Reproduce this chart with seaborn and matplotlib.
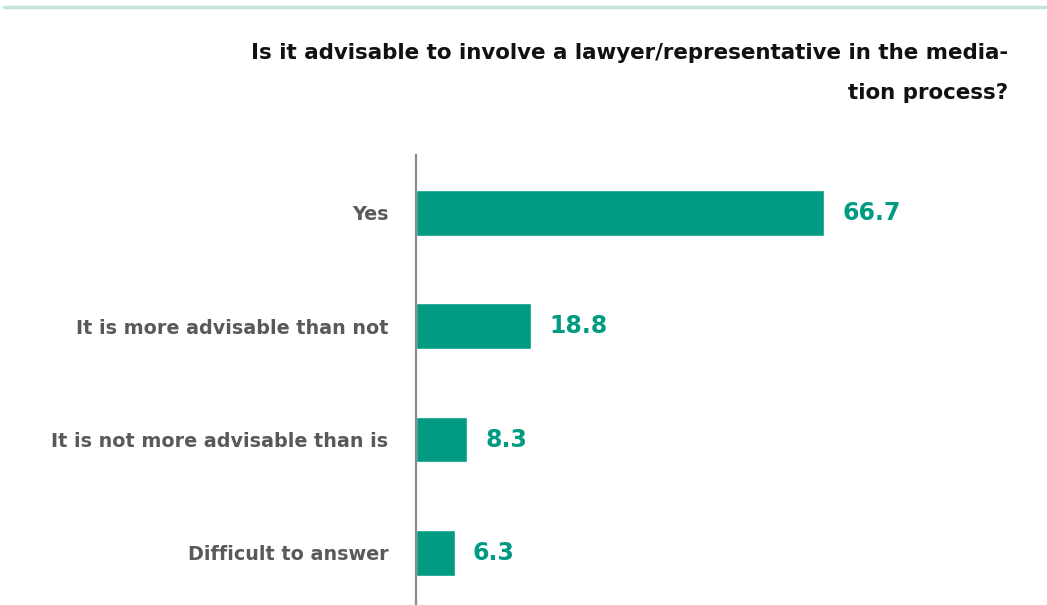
import matplotlib
matplotlib.use("Agg")
import matplotlib.pyplot as plt
import seaborn as sns
import pandas as pd
from matplotlib.lines import Line2D

categories = [
    "Yes",
    "It is more advisable than not",
    "It is not more advisable than is",
    "Difficult to answer",
]
values = [66.7, 18.8, 8.3, 6.3]
title_lines = [
    "Is it advisable to involve a lawyer/representative in the media-",
    "tion process?",
]

BAR = "#009b82"
LABEL = "#595959"

sns.set_theme(style="white")
plt.rcParams["font.family"] = ["DejaVu Sans"]

df = pd.DataFrame({"answer": categories, "share": values})

W, H = 1047, 605
fig = plt.figure(figsize=(W / 100, H / 100), dpi=100)
# axes spans from the vertical baseline (x=416) to the right margin
ax = fig.add_axes([416 / W, 0, 610 / W, (605 - 155) / H])

sns.barplot(data=df, x="share", y="answer", color=BAR, width=0.405,
            saturation=1, ax=ax)

ax.set_xlim(0, 99.7)
ax.set_ylim(3.46, -0.51)
ax.set_xlabel("")
ax.set_ylabel("")
ax.set_xticks([])
for s in ["top", "right", "bottom"]:
    ax.spines[s].set_visible(False)
ax.spines["left"].set_color("#8c8c8c")
ax.spines["left"].set_linewidth(1.6)
ax.tick_params(axis="y", length=0, pad=20)
for t in ax.get_yticklabels():
    t.set_fontsize(13.8)
    t.set_fontweight("bold")
    t.set_color(LABEL)

for i, v in enumerate(values):
    ax.text(v + 3.0, i, f"{v:.1f}", va="center", ha="left",
            fontsize=17, fontweight="bold", color=BAR)

# thin accent rule across the top
fig.add_artist(Line2D([4 / W, 1.0], [1 - 7 / H, 1 - 7 / H],
                      color="#c2e3d8", linewidth=2.5))

for k, line in enumerate(title_lines):
    fig.text(1008 / W, 1 - (53 + 40 * k) / H, line, ha="right", va="center",
             fontsize=15.4, fontweight="bold", color="#111111")

fig.savefig("out.png", dpi=100)
